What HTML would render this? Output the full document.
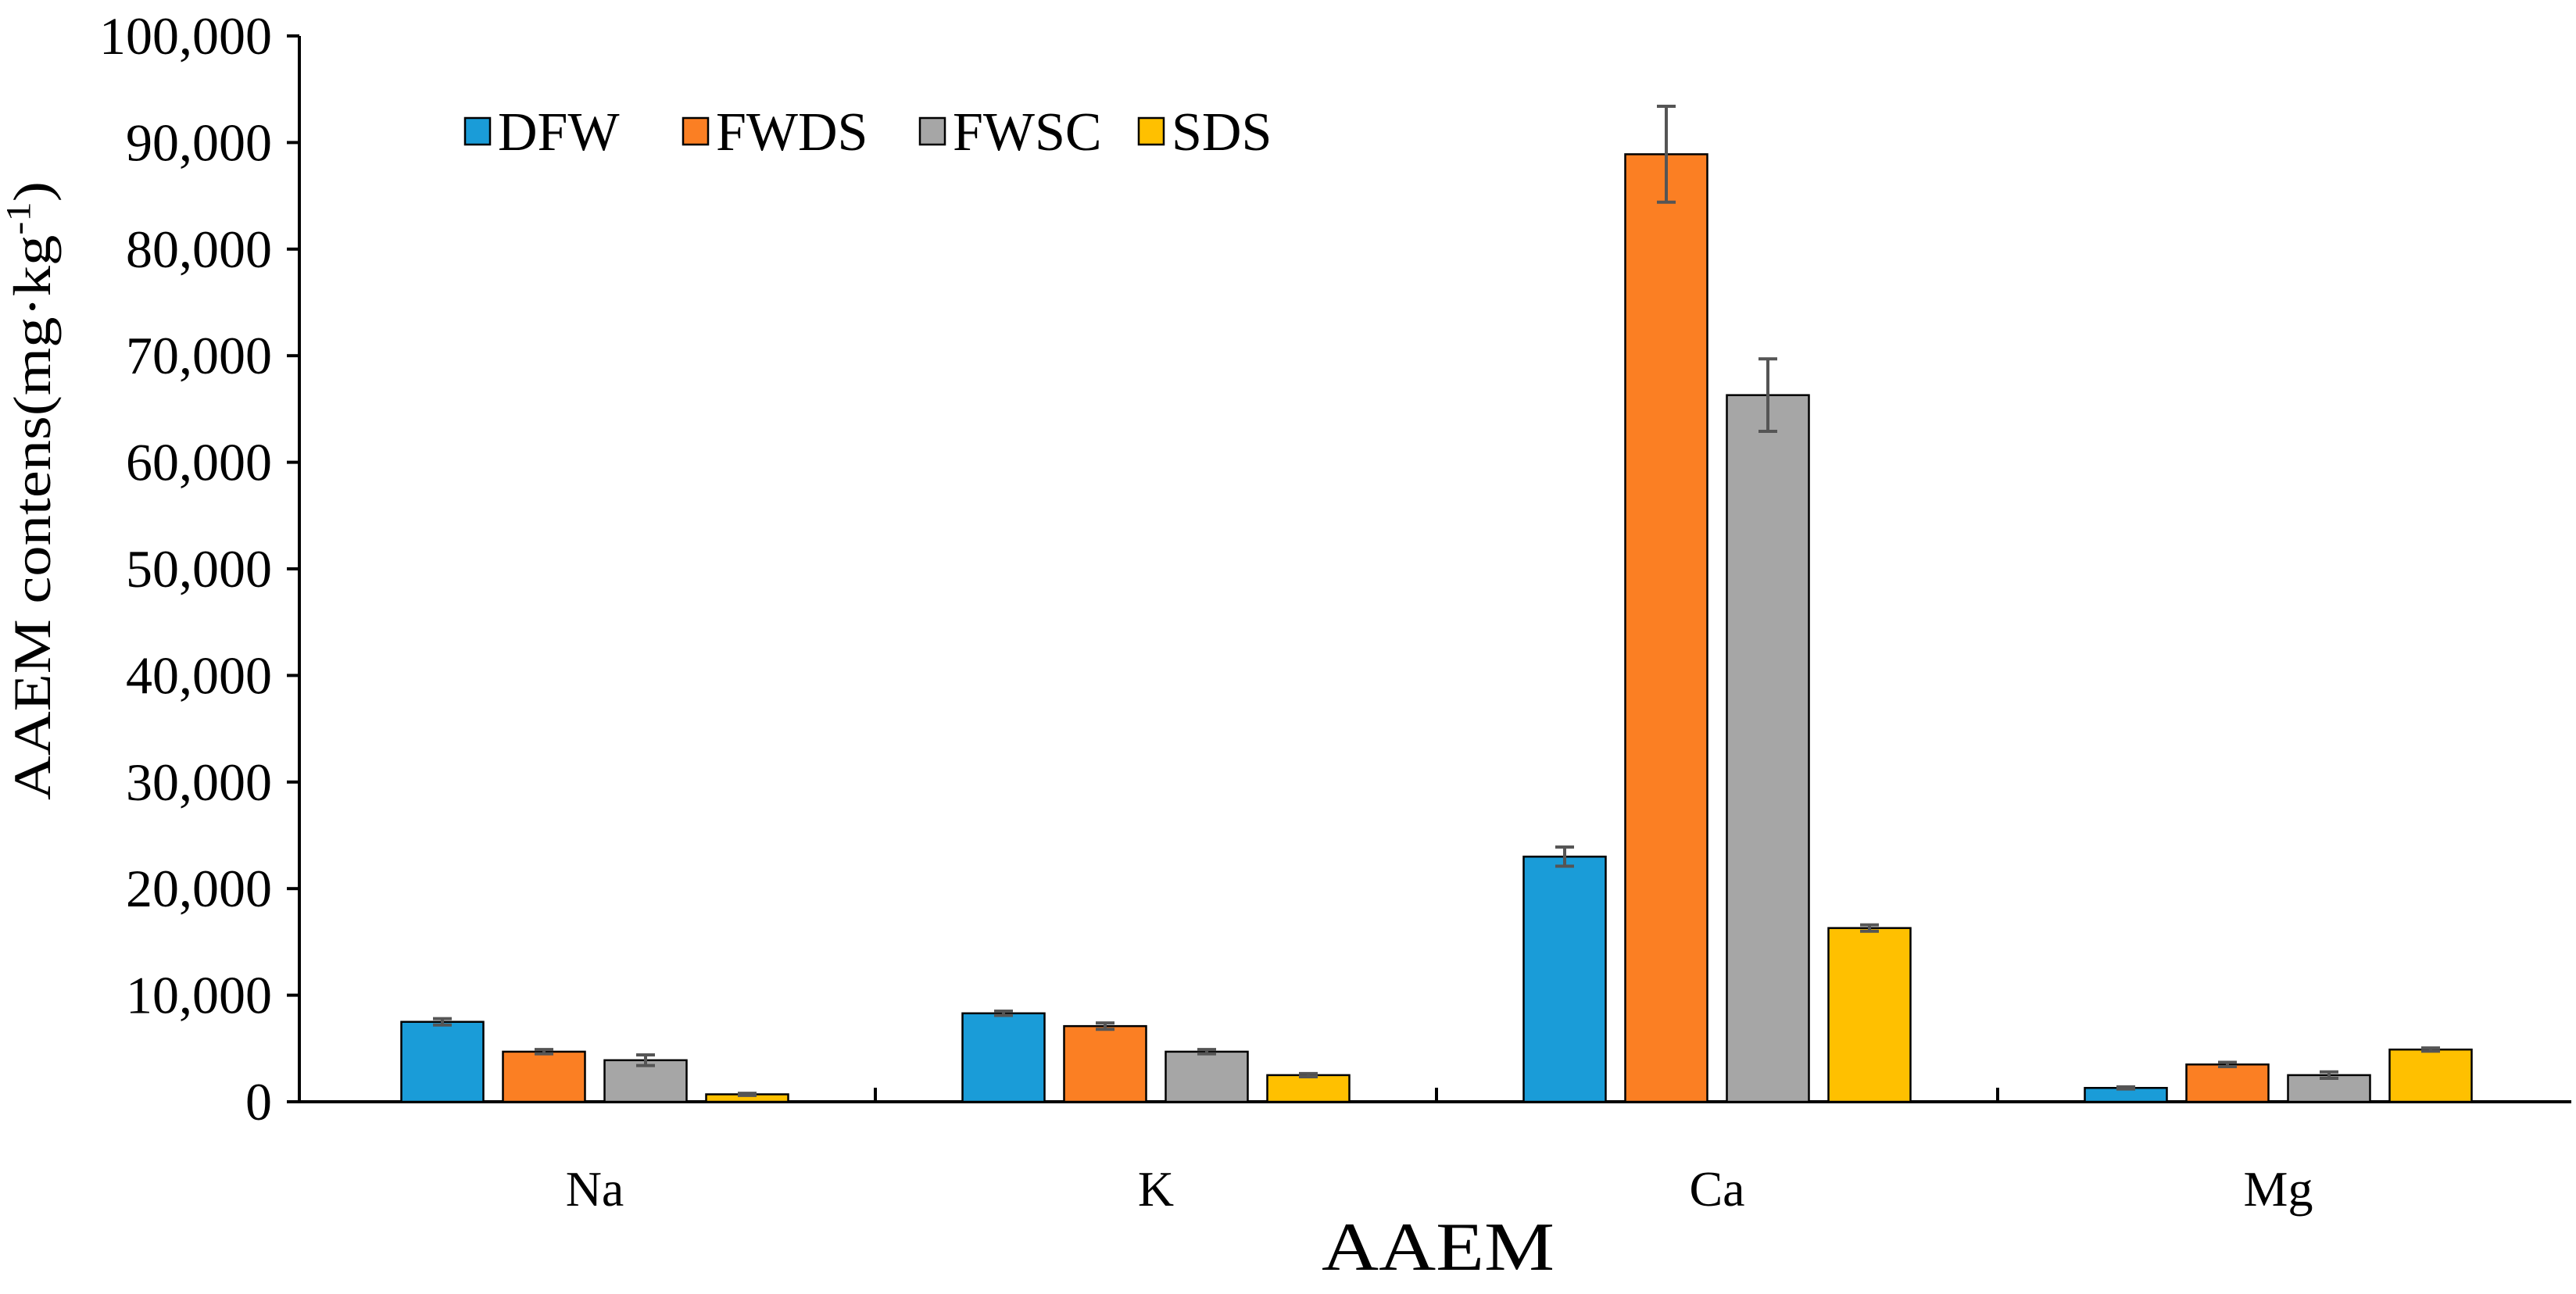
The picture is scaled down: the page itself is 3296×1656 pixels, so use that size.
<!DOCTYPE html>
<html><head><meta charset="utf-8"><style>
html,body{margin:0;padding:0;background:#fff}
svg{display:block}
text{font-family:"Liberation Serif",serif;fill:#000}
</style></head><body>
<svg id="chart" width="3296" height="1656" viewBox="0 0 3296 1656">
<g id="axes"></g>
<g id="bars"></g>
<g id="legend"></g>
<text transform="translate(64,628) rotate(-90)" text-anchor="middle" font-size="68" textLength="792" lengthAdjust="spacingAndGlyphs">AAEM contens(mg·kg<tspan dy="-26" font-size="44">-1</tspan><tspan dy="26">)</tspan></text>
<text x="1840" y="1625" text-anchor="middle" font-size="88" textLength="298" lengthAdjust="spacingAndGlyphs">AAEM</text>
</svg>
<script>
const categories=["Na","K","Ca","Mg"];
const seriesNames=["DFW","FWDS","FWSC","SDS"];
const seriesColors=["#1a9cd8","#fb7f23","#a6a6a6","#ffc000"];
const dfw=[7500,8300,23000,1300];
const fwds=[4700,7100,88900,3500];
const fwsc=[3900,4700,66300,2500];
const sds=[700,2500,16300,4900];
const dfwErr=[300,200,900,100];
const fwdsErr=[200,300,4500,200];
const fwscErr=[500,200,3400,300];
const sdsErr=[100,150,300,150];
const yTicks=[0,10000,20000,30000,40000,50000,60000,70000,80000,90000,100000];

const NS="http://www.w3.org/2000/svg";
const X0=383,X1=3290,Y0=1410,YT=46,YMAX=100000;
const catW=718,C0=761;
const y=v=>Y0-(v/YMAX)*(Y0-YT);
const xc=i=>C0+catW*i;
const mk=(t,a,p)=>{const e=document.createElementNS(NS,t);for(const k in a)e.setAttribute(k,a[k]);p.appendChild(e);return e;};
const axes=document.getElementById('axes'),bars=document.getElementById('bars'),legend=document.getElementById('legend');

let l=mk('line',{x1:X0,y1:YT,x2:X0,y2:Y0,stroke:'#000','stroke-width':4},axes);


l=mk('line',{x1:X0-16,y1:Y0,x2:X1,y2:Y0,stroke:'#000','stroke-width':4},axes);


yTicks.forEach(v=>{
  const t=mk('line',{x1:X0-16,y1:y(v),x2:X0,y2:y(v),stroke:'#000','stroke-width':4},axes);
  
  
  const tx=mk('text',{x:348,y:y(v)+23,'text-anchor':'end','font-size':68},axes);
  tx.textContent=v.toLocaleString('en-US');
  
  
});
for(let i=1;i<categories.length;i++){
  const bx=xc(i)-catW/2;
  const t=mk('line',{x1:bx,y1:Y0-18,x2:bx,y2:Y0,stroke:'#000','stroke-width':4},axes);
  
  
}
categories.forEach((c,i)=>{
  const tx=mk('text',{x:xc(i),y:1543,'text-anchor':'middle','font-size':64},axes);
  tx.textContent=c;
  
  
});
const vals=[dfw,fwds,fwsc,sds],errs=[dfwErr,fwdsErr,fwscErr,sdsErr];
const step=130,bw=105;
categories.forEach((c,i)=>{
  vals.forEach((s,j)=>{
    const cx=xc(i)+(j-1.5)*step;
    const r=mk('rect',{x:cx-bw/2,y:y(s[i]),width:bw,height:Y0-y(s[i]),fill:seriesColors[j],stroke:'#000','stroke-width':2.5},bars);
    
    
    const e=errs[j][i],g=mk('g',{stroke:'#555','stroke-width':4},bars);
    
    
    mk('line',{x1:cx,y1:y(s[i]+e),x2:cx,y2:y(s[i]-e)},g);
    mk('line',{x1:cx-12,y1:y(s[i]+e),x2:cx+12,y2:y(s[i]+e)},g);
    mk('line',{x1:cx-12,y1:y(s[i]-e),x2:cx+12,y2:y(s[i]-e)},g);
  });
});
const legX=[595,874,1177,1457];
seriesNames.forEach((n,j)=>{
  const g=mk('g',{},legend);
  
  
  mk('rect',{x:legX[j],y:151,width:32,height:34,fill:seriesColors[j],stroke:'#000','stroke-width':2.5},g);
  const t=mk('text',{x:legX[j]+42,y:192,'font-size':70,'font-family':'Liberation Sans, sans-serif'},g);
  t.textContent=n;
});
</script>
</body></html>
